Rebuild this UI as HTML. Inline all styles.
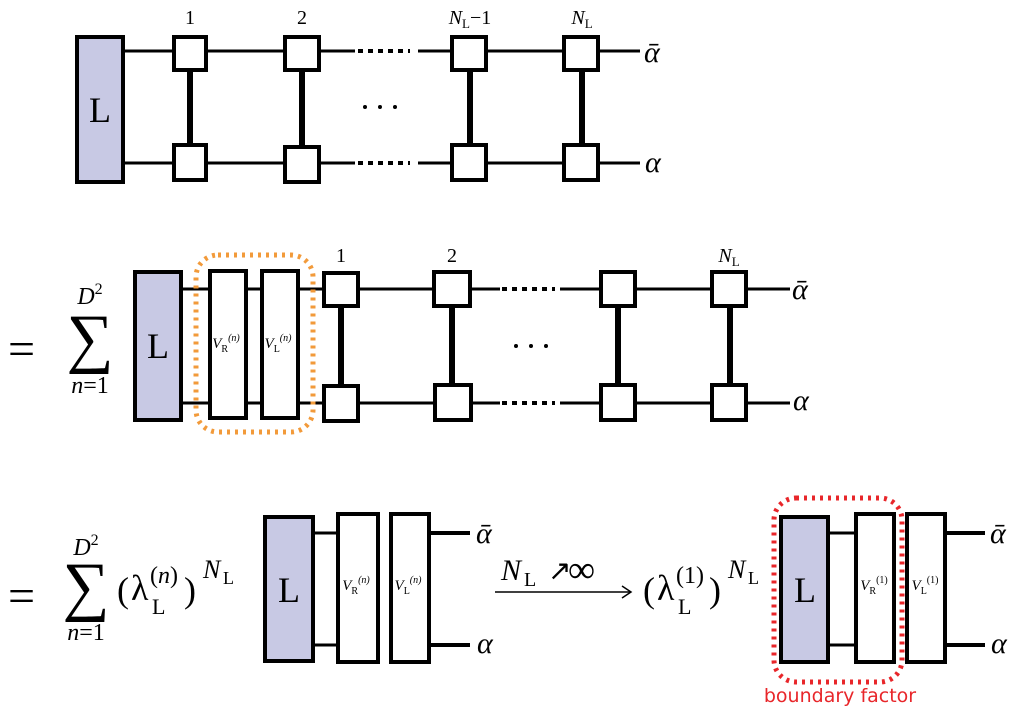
<!DOCTYPE html>
<html><head><meta charset="utf-8"><style>body{margin:0;background:#fff}svg{display:block}</style></head><body>
<svg width="1024" height="715" viewBox="0 0 1024 715" xmlns="http://www.w3.org/2000/svg" font-family="Liberation Serif, serif">
<g stroke="#000" fill="none">
<line x1="124" y1="51" x2="355" y2="51" stroke-width="3"/>
<line x1="418" y1="51" x2="640" y2="51" stroke-width="3"/>
<line x1="124" y1="163" x2="355" y2="163" stroke-width="3"/>
<line x1="418" y1="163" x2="640" y2="163" stroke-width="3"/>
<line x1="358" y1="51" x2="410" y2="51" stroke-width="4" stroke-dasharray="5,5"/>
<line x1="358" y1="163" x2="410" y2="163" stroke-width="4" stroke-dasharray="5,5"/>
<g stroke-width="6"><line x1="190" y1="70" x2="190" y2="145"/><line x1="302" y1="70" x2="302" y2="145"/><line x1="470" y1="70" x2="470" y2="145"/><line x1="582" y1="70" x2="582" y2="145"/></g>
<rect x="77" y="37" width="46" height="145" fill="#c8c9e4" stroke-width="4"/>
<g fill="#fff" stroke-width="4">
<rect x="174" y="37" width="32" height="33"/><rect x="285" y="37" width="34" height="33"/><rect x="452" y="37" width="34" height="33"/><rect x="564" y="37" width="34" height="33"/>
<rect x="174" y="145" width="32" height="35"/><rect x="285" y="147" width="34" height="35"/><rect x="452" y="145" width="34" height="35"/><rect x="564" y="145" width="34" height="35"/>
</g>
<line x1="181" y1="289" x2="500" y2="289" stroke-width="3"/>
<line x1="560" y1="289" x2="790" y2="289" stroke-width="3"/>
<line x1="181" y1="403" x2="500" y2="403" stroke-width="3"/>
<line x1="560" y1="403" x2="790" y2="403" stroke-width="3"/>
<line x1="502" y1="289" x2="555" y2="289" stroke-width="4" stroke-dasharray="5,5"/>
<line x1="502" y1="403" x2="555" y2="403" stroke-width="4" stroke-dasharray="5,5"/>
<g stroke-width="6"><line x1="341" y1="305" x2="341" y2="385"/><line x1="452" y1="305" x2="452" y2="385"/><line x1="618" y1="305" x2="618" y2="385"/><line x1="730" y1="305" x2="730" y2="385"/></g>
<rect x="135" y="272" width="46" height="148" fill="#c8c9e4" stroke-width="4"/>
<g fill="#fff" stroke-width="4">
<rect x="210" y="271" width="36" height="147"/><rect x="262" y="271" width="36" height="147"/>
<rect x="324" y="273" width="34" height="33"/><rect x="434" y="272" width="36" height="34"/><rect x="601" y="272" width="34" height="34"/><rect x="712" y="272" width="34" height="34"/>
<rect x="324" y="386" width="34" height="35"/><rect x="435" y="385" width="36" height="35"/><rect x="601" y="385" width="34" height="35"/><rect x="712" y="385" width="34" height="35"/>
</g>
<rect x="196" y="255" width="117" height="177" rx="22" stroke="#f29a3a" stroke-width="5" stroke-dasharray="3,5"/>
<line x1="313" y1="533" x2="337" y2="533" stroke-width="3"/>
<line x1="313" y1="645" x2="337" y2="645" stroke-width="3"/>
<line x1="430" y1="533" x2="470" y2="533" stroke-width="4"/>
<line x1="430" y1="645" x2="470" y2="645" stroke-width="4"/>
<rect x="265" y="517" width="48" height="144" fill="#c8c9e4" stroke-width="4"/>
<rect x="338" y="514" width="40" height="148" fill="#fff" stroke-width="4"/>
<rect x="391" y="514" width="38" height="148" fill="#fff" stroke-width="4"/>
<line x1="495" y1="592" x2="630" y2="592" stroke-width="1.5"/>
<path d="M622 586 L631 592 L622 598" stroke-width="1.5"/>
<line x1="828" y1="533" x2="856" y2="533" stroke-width="3"/>
<line x1="828" y1="645" x2="856" y2="645" stroke-width="3"/>
<line x1="945" y1="533" x2="985" y2="533" stroke-width="4"/>
<line x1="945" y1="645" x2="985" y2="645" stroke-width="4"/>
<rect x="781" y="517" width="47" height="145" fill="#c8c9e4" stroke-width="4"/>
<rect x="856" y="514" width="38" height="148" fill="#fff" stroke-width="4"/>
<rect x="907" y="514" width="38" height="148" fill="#fff" stroke-width="4"/>
<rect x="774" y="498" width="128" height="184" rx="22" stroke="#e8262a" stroke-width="5" stroke-dasharray="3,5"/>
</g>
<g fill="#000">
<circle cx="365" cy="107" r="2"/><circle cx="380" cy="107" r="2"/><circle cx="395" cy="107" r="2"/>
<circle cx="516" cy="346" r="2"/><circle cx="531" cy="346" r="2"/><circle cx="546" cy="346" r="2"/>
</g>
<g font-size="36" text-anchor="middle"><text x="100" y="122">L</text><text x="158" y="358">L</text><text x="289" y="602">L</text><text x="805" y="602">L</text></g>
<g font-size="20" text-anchor="middle">
<text x="190" y="24">1</text><text x="302" y="24">2</text>
<text x="470" y="24"><tspan font-style="italic">N</tspan><tspan font-size="13" dy="4">L</tspan><tspan dy="-4">−1</tspan></text>
<text x="582" y="24"><tspan font-style="italic">N</tspan><tspan font-size="13" dy="4">L</tspan></text>
<text x="341" y="262">1</text><text x="452" y="262">2</text>
<text x="729" y="262"><tspan font-style="italic">N</tspan><tspan font-size="13" dy="4">L</tspan></text>
</g>
<g font-size="30" font-style="italic">
<text x="644" y="62">ᾱ</text><text x="645" y="172">α</text>
<text x="792" y="299">ᾱ</text><text x="793" y="410">α</text>
<text x="476" y="543">ᾱ</text><text x="477" y="653">α</text>
<text x="990" y="543">ᾱ</text><text x="991" y="653">α</text>
</g>
<g font-size="15" text-anchor="middle" font-style="italic">
<text x="226" y="348">V<tspan font-size="10" font-style="normal" dy="4">R</tspan><tspan font-size="10" dy="-11">(n)</tspan></text>
<text x="278" y="348">V<tspan font-size="10" font-style="normal" dy="4">L</tspan><tspan font-size="10" dy="-11">(n)</tspan></text>
<text x="356" y="590">V<tspan font-size="10" font-style="normal" dy="4">R</tspan><tspan font-size="10" dy="-11">(n)</tspan></text>
<text x="408" y="590">V<tspan font-size="10" font-style="normal" dy="4">L</tspan><tspan font-size="10" dy="-11">(n)</tspan></text>
<text x="874" y="590">V<tspan font-size="10" font-style="normal" dy="4">R</tspan><tspan font-size="10" font-style="normal" dy="-11">(1)</tspan></text>
<text x="925" y="590">V<tspan font-size="10" font-style="normal" dy="4">L</tspan><tspan font-size="10" font-style="normal" dy="-11">(1)</tspan></text>
</g>
<g font-size="48"><text x="8" y="365">=</text><text x="8" y="612">=</text></g>
<g font-size="66" text-anchor="middle"><text x="90" y="360">∑</text><text x="86" y="608">∑</text></g>
<g font-size="24" text-anchor="middle">
<text x="90" y="304"><tspan font-style="italic">D</tspan><tspan font-size="16" dy="-10">2</tspan></text>
<text x="90" y="393"><tspan font-style="italic">n</tspan>=1</text>
<text x="86" y="555"><tspan font-style="italic">D</tspan><tspan font-size="16" dy="-10">2</tspan></text>
<text x="86" y="640"><tspan font-style="italic">n</tspan>=1</text>
</g>
<g font-size="36">
<text x="117" y="602">(</text><text x="131" y="600">λ</text><text x="152" y="614" font-size="22">L</text>
<text x="150" y="583" font-size="24">(<tspan font-style="italic">n</tspan>)</text>
<text x="184" y="602">)</text>
<text x="203" y="578" font-size="26" font-style="italic">N</text><text x="223" y="584" font-size="18">L</text>
<text x="643" y="602">(</text><text x="657" y="600">λ</text><text x="678" y="614" font-size="22">L</text>
<text x="676" y="583" font-size="24">(1)</text>
<text x="709" y="602">)</text>
<text x="728" y="578" font-size="26" font-style="italic">N</text><text x="748" y="584" font-size="18">L</text>
<text x="501" y="580" font-size="30" font-style="italic">N</text><text x="524" y="586" font-size="20">L</text>
<text x="548" y="580" font-size="28">↗</text><text x="568" y="582" font-size="38">∞</text>
</g>
<text x="840" y="702" font-size="19" fill="#e8262a" text-anchor="middle" font-family="DejaVu Sans, sans-serif">boundary factor</text>
</svg>
</body></html>
